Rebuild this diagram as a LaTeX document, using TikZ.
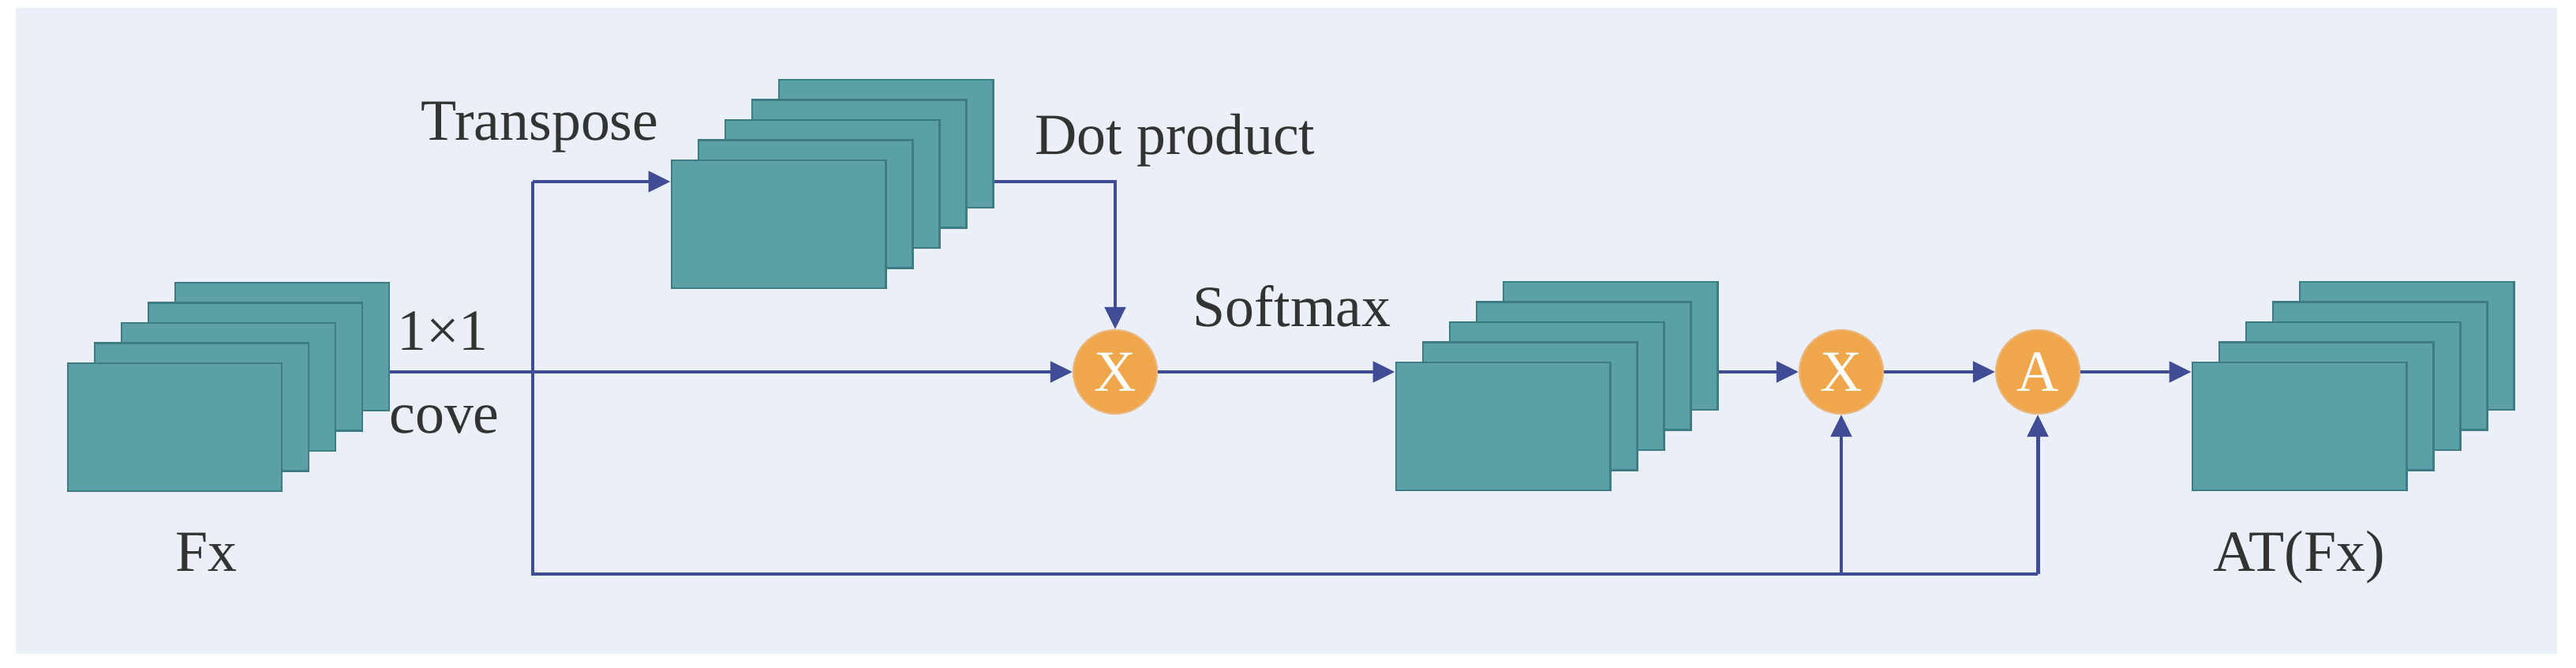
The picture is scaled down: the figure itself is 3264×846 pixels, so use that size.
\documentclass[tikz,border=0pt]{standalone}
\usepackage{fontspec}
\setmainfont{Liberation Serif}
\usetikzlibrary{arrows.meta}
\definecolor{panelbg}{HTML}{EAEFF8}
\definecolor{mapfill}{HTML}{5B9FA7}
\definecolor{mapedge}{HTML}{3E7C84}
\definecolor{opfill}{HTML}{F0A64B}
\definecolor{opedge}{HTML}{E9B67C}
\definecolor{linkcol}{HTML}{414C97}
\tikzstyle{fmap} = [rectangle, draw=mapedge, fill=mapfill, line width=0.8pt, minimum width=2.71cm, minimum height=1.62cm, inner sep=0pt]
\tikzstyle{op} = [circle, draw=opedge, fill=opfill, line width=0.6pt, minimum size=1.06cm, inner sep=0pt, text=white]
\tikzstyle{lbl} = [anchor=base, inner sep=0pt, text=black!80]
\tikzstyle{link} = [draw=linkcol, line width=1.4pt]

% five stacked feature maps, front one is #1 0
\newcommand{\fmapstack}[3]{%
  \foreach \i in {4,3,2,1,0}
    \node[fmap] (#1\i) at ({#2+34*\i},{#3-25.5*\i}) {};
}

\begin{document}
\begin{tikzpicture}[x=0.01cm,y=-0.01cm,>={Triangle[length=0.28cm,width=0.26cm]},font=\fontsize{21}{25}\selectfont]
  \useasboundingbox (0,0) rectangle (3264,846);
  \fill[panelbg] (20,10) rectangle (3240,828);

  % feature maps
  \fmapstack{fx}{221.5}{541}
  \fmapstack{tr}{986.5}{284}
  \fmapstack{sm}{1904.5}{540}
  \fmapstack{at}{2913.5}{540}

  % operators
  \node[op] (x1) at (1413,471) {X};
  \node[op] (x2) at (2333,471) {X};
  \node[op] (a1) at (2582,471) {A};

  % labels
  \node[lbl] (fxlab) at (261,723) {Fx};
  \node[lbl] (conv1) at (561,443) {1×1};
  \node[lbl] (conv2) at (563,548) {cove};
  \node[lbl] (trlab) at (684,178) {Transpose};
  \node[lbl] (dplab) at (1489,196) {Dot product};
  \node[lbl] (smlab) at (1637,413) {Softmax};
  \node[lbl] (atlab) at (2913,723) {AT(Fx)};

  \coordinate (tp) at (675,230);
  \coordinate (bl) at (675,727);

  \draw[link,->] (fx4.east |- x1) -- (x1);
  \draw[link,->] (tp) -- (tp -| tr0.west);
  \draw[link,->] (tp -| tr4.east) -| (x1);
  \draw[link] (tp) -- (bl) -- (bl -| a1);
  \draw[link,->] (bl -| x2) -- (x2);
  \draw[link,->] (bl -| a1) -- (a1);
  \draw[link,->] (x1) -- (x1 -| sm0.west);
  \draw[link,->] (sm4.east |- x2) -- (x2);
  \draw[link,->] (x2) -- (a1);
  \draw[link,->] (a1) -- (a1 -| at0.west);
\end{tikzpicture}
\end{document}
